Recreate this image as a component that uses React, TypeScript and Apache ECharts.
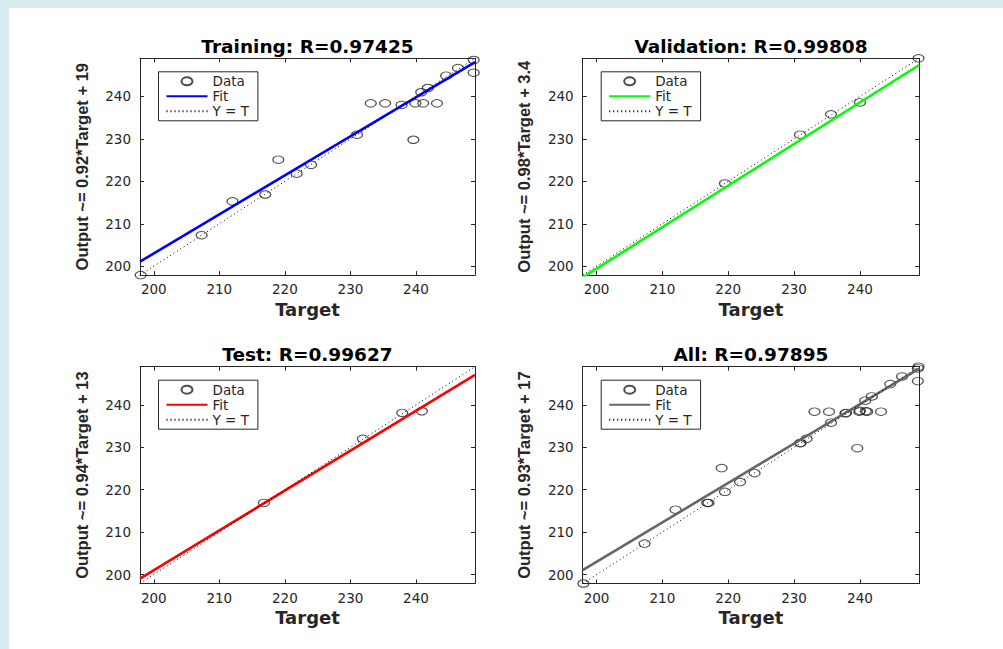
import { useEffect, useRef } from "react";
import * as echarts from "echarts";

// Network regression results: targets vs. outputs per data split
const trainTarget = [198.0, 207.3, 212.0, 217.0, 219.0, 221.8, 224.0, 231.0, 233.1, 235.3, 237.8, 239.6, 239.9, 241.1, 240.8, 241.8, 243.2, 244.6, 246.4, 248.8, 248.8];
const trainOutput = [197.9, 207.3, 215.3, 216.9, 225.1, 221.8, 223.9, 231.0, 238.4, 238.4, 238.0, 229.8, 238.4, 238.4, 241.0, 242.0, 238.4, 244.9, 246.7, 248.6, 245.6];

const valTarget = [219.5, 230.9, 235.6, 240.0, 248.9];
const valOutput = [219.5, 231.0, 235.8, 238.6, 249.0];

const testTarget = [216.8, 231.9, 237.9, 240.9];
const testOutput = [216.9, 232.0, 238.1, 238.5];

const allTarget = [...trainTarget, ...valTarget, ...testTarget];
const allOutput = [...trainOutput, ...valOutput, ...testOutput];

const panelNames = ["Training", "Validation", "Test", "All"];
const rValues = ["0.97425", "0.99808", "0.99627", "0.97895"];
const fitSlopes = [0.92, 0.98, 0.94, 0.93];
const fitIntercepts = [19, 3.4, 13, 17];
const fitColors = ["#0000ff", "#00ff00", "#ff0000", "#666666"];

const axisMin = 197.9;
const axisMax = 249.0;

const targets = [trainTarget, valTarget, testTarget, allTarget];
const outputs = [trainOutput, valOutput, testOutput, allOutput];

// layout of the 2x2 axes (chart-local pixels)
const colLeft = [131, 573.7];
const colWidth = [335, 336.5];
const rowTop = [50.3, 358.7];
const gridH = 216.8;

const INK = "#262626";
const CLEAR = "rgba(0,0,0,0)";
const ELLIPSE = "path://M0,4A5.5,4,0,1,0,11,4A5.5,4,0,1,0,0,4Z";

function buildOption() {
  const grids: any[] = [];
  const xAxes: any[] = [];
  const yAxes: any[] = [];
  const series: any[] = [];
  const legends: any[] = [];
  const graphics: any[] = [];

  const axisBase = {
    type: "value",
    min: axisMin,
    max: axisMax,
    axisLine: { show: true, onZero: false, lineStyle: { color: INK, width: 1 } },
    axisTick: { show: true, inside: true, length: 4, lineStyle: { color: INK, width: 1 } },
    splitLine: { show: false },
  };
  const tickLabel = {
    show: true,
    showMinLabel: false,
    showMaxLabel: false,
    fontFamily: "DejaVu Sans",
    fontSize: 13.5,
    color: INK,
  };
  const hiddenMarker = { color: CLEAR, borderColor: CLEAR, borderWidth: 0, opacity: 0 };

  panelNames.forEach((name, i) => {
    const col = i % 2;
    const row = Math.floor(i / 2);
    const left = colLeft[col];
    const top = rowTop[row];
    const width = colWidth[col];
    grids.push({ left, top, width, height: gridH, show: false });

    xAxes.push({
      ...axisBase,
      gridIndex: i,
      position: "bottom",
      name: "Target",
      nameLocation: "middle",
      nameGap: 25,
      nameTextStyle: { fontFamily: "DejaVu Sans", fontWeight: "bold", fontSize: 18, color: INK },
      axisLabel: { ...tickLabel, margin: 7 },
    });
    xAxes.push({ ...axisBase, gridIndex: i, position: "top", axisLabel: { show: false } });

    const slope = fitSlopes[i];
    const intercept = fitIntercepts[i];
    yAxes.push({
      ...axisBase,
      gridIndex: i,
      position: "left",
      name: `Output ~= ${slope}*Target + ${intercept}`,
      nameLocation: "middle",
      nameRotate: 90,
      nameGap: 50,
      nameTextStyle: { fontFamily: "Liberation Sans", fontWeight: "bold", fontSize: 16.5, color: INK },
      axisLabel: { ...tickLabel, margin: 9 },
    });
    yAxes.push({ ...axisBase, gridIndex: i, position: "right", axisLabel: { show: false } });

    const t = targets[i];
    const y = outputs[i];
    series.push({
      type: "scatter",
      name: `${name}|Data`,
      xAxisIndex: 2 * i,
      yAxisIndex: 2 * i,
      data: t.map((v, k) => [v, y[k]]),
      symbol: "circle",
      symbolSize: [11, 7.5],
      clip: false,
      itemStyle: { color: CLEAR, borderColor: "#222", borderWidth: 1.1 },
      z: 2,
    });
    series.push({
      type: "line",
      name: `${name}|Fit`,
      xAxisIndex: 2 * i,
      yAxisIndex: 2 * i,
      data: [
        [axisMin, slope * axisMin + intercept],
        [axisMax, slope * axisMax + intercept],
      ],
      symbol: "none",
      lineStyle: { color: fitColors[i], width: 2.6 },
      itemStyle: hiddenMarker,
      z: 3,
    });
    series.push({
      type: "line",
      name: `${name}|Y = T`,
      xAxisIndex: 2 * i,
      yAxisIndex: 2 * i,
      data: [
        [axisMin, axisMin],
        [axisMax, axisMax],
      ],
      symbol: "none",
      lineStyle: { color: "#000", width: 1, type: [1, 3] },
      itemStyle: hiddenMarker,
      z: 4,
    });

    legends.push({
      data: [
        { name: `${name}|Data`, icon: ELLIPSE },
        { name: `${name}|Fit`, itemStyle: hiddenMarker },
        { name: `${name}|Y = T`, itemStyle: hiddenMarker },
      ],
      orient: "vertical",
      left: left + 18.5,
      top: top + 13.5,
      itemWidth: 41,
      itemHeight: 8,
      itemGap: 0,
      padding: [2, 9, 2, 7],
      borderColor: INK,
      borderWidth: 1,
      borderRadius: 0,
      backgroundColor: "#fff",
      selectedMode: false,
      formatter: (n: string) => n.split("|")[1],
      textStyle: { fontFamily: "DejaVu Sans", fontSize: 13.5, color: INK, lineHeight: 15 },
    });

    graphics.push({
      type: "text",
      x: left + width / 2,
      y: top - 11.8,
      style: {
        text: `${name}: R=${rValues[i]}`,
        align: "center",
        verticalAlign: "middle",
        fill: "#000",
        font: "bold 18.5px 'DejaVu Sans'",
      },
    });
  });

  return {
    animation: false,
    backgroundColor: "#fff",
    grid: grids,
    xAxis: xAxes,
    yAxis: yAxes,
    series,
    legend: legends,
    graphic: graphics,
  };
}

export default function App() {
  const ref = useRef<HTMLDivElement>(null);
  useEffect(() => {
    if (!ref.current) return;
    const chart = echarts.init(ref.current, null, { renderer: "svg" });
    chart.setOption(buildOption() as any);
    return () => chart.dispose();
  }, []);
  return (
    <div style={{ position: "absolute", left: 0, top: 0, width: 1003, height: 649, background: "#d8ebf1" }}>
      <div ref={ref} style={{ position: "absolute", left: 9, top: 8, width: 994, height: 641, background: "#fff" }} />
    </div>
  );
}
